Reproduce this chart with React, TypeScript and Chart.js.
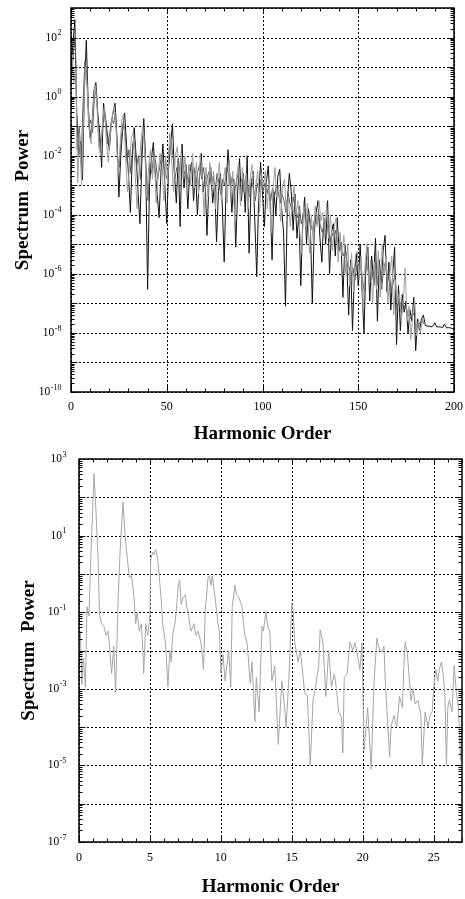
import React, { useEffect, useRef } from 'react';
import { Chart, registerables } from 'chart.js';

Chart.register(...registerables);

// ---------- Top chart data (harmonic order 0..200, step 1 for dark trace) ----------
const TOP_DARK_POWER = [
  1e1, 6e1, 4e2, 3e-1, 1e-2, 3e-2, 1.5e-3, 2e0, 8e1, 5e-1,
  4e-2, 1.2e-1, 1.6e0, 3e0, 2.5e-1, 6e-2, 4e-3, 6e-1, 2e-1, 5e-2,
  1.6e-2, 1.2e-1, 3e-1, 6e-1, 4e-2, 4e-4, 1e-2, 8e-2, 2.8e-1, 2.5e-2,
  2.5e-3, 1.2e-4, 8e-3, 9e-2, 1e-2, 6e-4, 5e-5, 6e-3, 1.8e-1, 5e-3,
  3e-7, 1e-3, 8e-3, 2.8e-2, 2.5e-3, 5e-4, 8e-5, 3e-3, 2.5e-2, 1e-3,
  5e-5, 4e-3, 2.5e-2, 1.2e-1, 2.5e-3, 2.5e-4, 8e-3, 4e-5, 2.5e-2, 8e-4,
  5e-3, 1.6e-4, 2.5e-3, 6e-3, 3e-4, 3e-3, 1e-4, 1.6e-3, 1.2e-2, 6e-4,
  2e-3, 2e-5, 1e-3, 4e-3, 2.5e-4, 1.2e-3, 1.2e-5, 6e-4, 2.5e-3, 2e-4,
  2.5e-6, 1e-3, 1.6e-2, 2e-3, 1.2e-4, 1.6e-3, 8e-6, 5e-4, 8e-3, 3e-4,
  2.5e-3, 1.2e-4, 1e-2, 5e-6, 8e-4, 3e-3, 6e-5, 8e-7, 4e-4, 6e-3,
  5e-4, 4e-5, 1.2e-3, 4.5e-3, 2.5e-4, 3e-6, 6e-4, 1e-4, 2e-3, 3.5e-3,
  1.6e-4, 2.5e-5, 8e-8, 3e-4, 2.5e-3, 6e-4, 3e-5, 5e-4, 1.6e-5, 1.2e-4,
  4e-7, 6e-5, 4e-4, 1e-5, 1.6e-4, 4e-5, 1e-7, 2.5e-5, 1.2e-4, 3e-4,
  1.6e-5, 2.5e-6, 8e-5, 1e-5, 3e-4, 1e-6, 2.5e-5, 5e-5, 4e-6, 8e-5,
  6e-6, 1.2e-5, 1.6e-7, 1e-5, 2.5e-6, 4e-8, 3e-6, 1.2e-8, 1e-6, 5e-6,
  4e-7, 1e-5, 2.5e-7, 1e-8, 2.5e-6, 8e-6, 1.2e-7, 4e-6, 6e-7, 1.6e-5,
  2.5e-8, 3e-6, 5e-7, 6e-6, 2e-5, 2.5e-7, 2.5e-6, 6e-8, 1e-6, 8e-6,
  4e-9, 4e-7, 1.2e-8, 2e-7, 5e-8, 1.2e-7, 1e-8, 6e-8, 2.5e-8, 1.6e-7,
  2.5e-9, 3e-8, 1.2e-8, 3e-8, 4e-8, 1.8e-8, 1.7e-8, 1.7e-8, 1.6e-8, 1.7e-8,
  2.2e-8, 1.6e-8, 1.6e-8, 1.6e-8, 1.5e-8, 2e-8, 1.5e-8, 1.5e-8, 1.5e-8, 1.4e-8,
  1.4e-8,
];

// Mid trace, harmonic order 0.25..184.25 (step 1)
const TOP_MID_POWER = [
  3e0, 3e1, 1e2, 1.6e-2, 1e-1, 6e-3, 5e-1, 1.6e1, 6e0, 1e-1,
  1.6e-1, 6e-2, 1e0, 1.6e0, 1.2e-1, 1.6e-2, 6e-2, 3e-1, 1e-1, 2.5e-2,
  6e-2, 1.6e-1, 1.2e-1, 3e-1, 1e-2, 4e-3, 4e-2, 1.2e-1, 6e-2, 6e-3,
  1.6e-2, 2.5e-3, 2.5e-2, 3e-2, 4e-3, 1e-2, 1.6e-3, 4e-2, 6e-2, 3e-3,
  3e-4, 6e-3, 2.5e-3, 1.2e-2, 6e-3, 1.6e-3, 4e-3, 1e-2, 5e-3, 2.5e-3,
  1.6e-3, 1.6e-2, 3e-2, 1e-2, 1.6e-3, 4e-3, 2e-3, 8e-3, 5e-3, 2.5e-3,
  3e-3, 1.2e-3, 5e-3, 2.5e-3, 4e-3, 1.2e-3, 3e-3, 5e-3, 1.6e-3, 4e-3,
  8e-4, 2e-3, 3e-3, 1e-3, 2e-3, 6e-4, 2.5e-3, 1.2e-3, 5e-4, 1.6e-3,
  1e-3, 4e-3, 2.5e-3, 8e-4, 2e-3, 5e-4, 1.2e-3, 2.5e-3, 1e-3, 1.6e-3,
  6e-4, 2e-3, 1e-3, 4e-4, 1.6e-3, 8e-4, 3e-4, 1.2e-3, 6e-4, 1.6e-3,
  6e-4, 1.2e-3, 5e-4, 1e-3, 3e-4, 8e-4, 4e-4, 1e-3, 6e-4, 2.5e-4,
  5e-4, 3e-4, 1.2e-4, 6e-4, 2.5e-4, 1.6e-4, 4e-4, 1.2e-4, 8e-5, 2e-4,
  5e-5, 1e-4, 1.6e-4, 4e-5, 1e-4, 5e-5, 2.5e-5, 8e-5, 5e-5, 1e-4,
  4e-5, 2.5e-5, 5e-5, 1.6e-5, 6e-5, 1.2e-5, 2.5e-5, 1.6e-5, 3e-5, 1e-5,
  1.2e-5, 6e-6, 4e-6, 8e-6, 2e-6, 1.6e-6, 8e-7, 1.6e-6, 6e-7, 2e-6,
  1.2e-6, 2.5e-6, 6e-7, 2.5e-7, 2.5e-6, 1.2e-6, 5e-7, 1.2e-6, 4e-7, 2.5e-6,
  4e-7, 1e-6, 3e-7, 1.6e-6, 2.5e-6, 5e-7, 1e-6, 2.5e-7, 5e-7, 1e-6,
  6e-8, 1.6e-7, 5e-8, 1e-7, 8e-8, 6e-8, 4e-8, 3e-8, 5e-8, 4e-8,
  1.2e-8, 2.5e-8, 2e-8, 2.5e-8, 2e-8,
];

// Light trace, harmonic order 0.5..184.5 (step 1)
const TOP_GRAY_POWER = [
  3e1, 3e0, 1e1, 1.2e-3, 6e-2, 1e-3, 1.6e-1, 1e1, 2e0, 8e-2,
  2.5e-2, 4e-1, 2.5e0, 6e-1, 2e-2, 1e-2, 1.6e-1, 5e-1, 3e-2, 6e-3,
  5e-2, 2e-1, 5e-1, 1e-1, 2.5e-3, 1.6e-2, 1.6e-1, 2.5e-1, 1e-2, 6e-4,
  4e-3, 4e-2, 6e-2, 2.5e-3, 1.6e-4, 3e-3, 3e-2, 1e-1, 1.6e-2, 4e-4,
  4e-3, 1.6e-2, 1.6e-3, 1e-2, 2.5e-4, 2.5e-3, 1.2e-2, 6e-3, 3e-4, 1e-2,
  1.2e-3, 6e-2, 1e-2, 6e-4, 1e-2, 2e-2, 1e-3, 1.2e-2, 1.6e-3, 1e-2,
  4e-4, 5e-3, 1e-3, 1.2e-2, 8e-4, 6e-3, 5e-4, 1e-2, 2.5e-3, 1e-4,
  4e-3, 4e-4, 6e-3, 1e-3, 3e-3, 1.6e-4, 1.6e-3, 6e-3, 3e-4, 1.2e-3,
  4e-3, 2.5e-4, 5e-3, 5e-4, 3e-3, 6e-5, 2e-3, 6e-3, 2e-4, 4e-3,
  6e-4, 2.5e-3, 1.6e-4, 1.6e-3, 5e-3, 2.5e-4, 1e-3, 3e-3, 1.2e-4, 2.5e-3,
  1e-3, 3e-3, 1.6e-4, 1.2e-3, 2.5e-5, 8e-4, 4e-3, 4e-4, 1e-3, 6e-5,
  1e-3, 1.6e-3, 1e-4, 4e-4, 4e-5, 2.5e-4, 1e-3, 1e-4, 3e-4, 2.5e-5,
  5e-6, 2e-4, 4e-5, 2.5e-4, 5e-6, 1e-4, 1.2e-5, 2e-4, 4e-5, 3e-4,
  6e-5, 1.2e-4, 2e-5, 2.5e-4, 1.6e-5, 1e-4, 6e-6, 4e-5, 8e-5, 2.5e-6,
  2.5e-5, 4e-6, 2e-5, 1e-6, 1e-5, 4e-7, 5e-6, 2.5e-7, 4e-6, 6e-6,
  6e-7, 4e-6, 6e-8, 1.6e-6, 1e-5, 4e-7, 3e-6, 1e-7, 2.5e-6, 3e-7,
  6e-6, 1.6e-7, 1e-5, 1e-6, 4e-6, 1e-7, 1e-6, 4e-6, 4e-8, 6e-7,
  1e-7, 2.5e-7, 2.5e-8, 1.2e-7, 1.6e-6, 2.5e-8, 8e-8, 6e-9, 5e-8, 1.2e-7,
  8e-9, 2.5e-8, 1e-8, 3e-8, 2e-8,
];

// ---------- Bottom chart data (harmonic order 0..27) ----------
const BOTTOM_ORDER = [
  0, 0.1, 0.2, 0.3, 0.45, 0.56, 0.7, 0.85, 1.06, 1.2,
  1.34, 1.45, 1.6, 1.75, 1.9, 2.05, 2.15, 2.3, 2.45, 2.58,
  2.75, 2.9, 3.1, 3.25, 3.35, 3.55, 3.7, 3.85, 4.0, 4.1,
  4.25, 4.4, 4.5, 4.56, 4.7, 4.85, 5.0, 5.05, 5.2, 5.3,
  5.4, 5.55, 5.7, 5.8, 5.9, 6.1, 6.27, 6.4, 6.5, 6.6,
  6.8, 7.0, 7.1, 7.2, 7.35, 7.5, 7.6, 7.7, 7.8, 7.9,
  8.1, 8.25, 8.4, 8.6, 8.78, 8.9, 9.1, 9.2, 9.3, 9.4,
  9.55, 9.65, 9.8, 9.9, 10.0, 10.15, 10.3, 10.45, 10.55, 10.7,
  10.8, 11.0, 11.1, 11.25, 11.4, 11.5, 11.6, 11.7, 11.85, 12.07,
  12.2, 12.4, 12.5, 12.7, 12.9, 13.0, 13.17, 13.3, 13.45, 13.6,
  13.8, 14.05, 14.3, 14.5, 14.6, 14.8, 15.0, 15.1, 15.2, 15.45,
  15.6, 15.8, 15.9, 16.1, 16.3, 16.5, 16.7, 16.9, 17.0, 17.2,
  17.4, 17.6, 17.8, 18.0, 18.15, 18.3, 18.5, 18.6, 18.7, 18.9,
  19.1, 19.3, 19.45, 19.6, 19.8, 19.95, 20.1, 20.35, 20.6, 20.8,
  21.0, 21.2, 21.35, 21.5, 21.6, 21.9, 22.0, 22.2, 22.4, 22.6,
  22.8, 22.9, 23.0, 23.15, 23.4, 23.55, 23.7, 23.9, 24.1, 24.2,
  24.4, 24.6, 24.75, 24.9, 25.0, 25.15, 25.3, 25.4, 25.55, 25.7,
  25.8, 25.9, 26.0, 26.1, 26.3, 26.45, 26.6, 26.75, 26.9, 27.0,
];

const BOTTOM_POWER = [
  6.3e-3, 3.2e-2, 1.3e-3, 6.3e-3, 1.1e-3, 1.4e-1, 8e-2, 4, 4.2e2, 40,
  2.8, 8e-2, 5e-2, 4.3e-2, 2.5e-2, 3.2e-2, 1.3e-2, 2.5e-3, 1.3e-2, 8e-4,
  1.7e-1, 4, 76, 10, 4, 0.8, 0.9, 0.32, 5e-2, 0.1,
  3.2e-2, 5e-2, 1e-2, 2.5e-3, 5e-2, 2.5e-2, 8.3e-2, 2.3, 3.7, 3.2,
  4.4, 2.5, 0.56, 0.2, 5e-2, 1.6e-2, 1.15e-3, 1e-2, 5e-3, 2.5e-2,
  6.3e-2, 0.5, 0.7, 0.16, 0.25, 0.28, 0.13, 0.1, 5e-2, 3.2e-2,
  5e-2, 2.5e-2, 3.2e-2, 1.6e-2, 3.2e-3, 0.11, 0.8, 0.9, 0.5, 0.9,
  0.32, 0.16, 5e-2, 3.2e-2, 2.5e-3, 8e-3, 1.6e-3, 5e-3, 1e-2, 1.1e-3,
  0.14, 0.51, 0.28, 0.25, 0.18, 0.13, 5e-2, 2.5e-2, 1.6e-2, 1.4e-3,
  5e-3, 1.4e-4, 2e-3, 2.5e-4, 4.3e-2, 3.2e-2, 0.105, 4.3e-2, 3.2e-2, 1.6e-3,
  4e-3, 3.5e-5, 1.6e-3, 3.2e-4, 1e-4, 2e-3, 0.17, 0.11, 1.6e-2, 5e-3,
  1e-2, 2e-3, 8e-4, 6.3e-4, 1e-5, 5e-4, 1.3e-3, 4e-3, 3.5e-2, 1.6e-2,
  6.3e-4, 1e-2, 1.1e-3, 2.5e-3, 1e-3, 2.5e-4, 1.8e-4, 2.1e-5, 2e-3, 2.5e-3,
  1.7e-2, 1e-2, 1.6e-2, 9e-3, 3.2e-3, 1.6e-2, 2.5e-5, 3.2e-4, 8e-6, 1.6e-3,
  2.1e-2, 1e-2, 9e-3, 1.3e-2, 1.3e-3, 1.7e-5, 1e-4, 2e-4, 1e-4, 6.3e-4,
  3.2e-4, 4e-3, 1.7e-2, 8e-3, 5e-4, 1e-3, 4e-4, 5e-4, 2e-4, 1e-5,
  2.5e-4, 1e-4, 2e-4, 2.5e-4, 1e-3, 3.2e-3, 1.6e-3, 3.2e-3, 5e-3, 2e-3,
  6.3e-4, 1e-5, 3.2e-4, 5e-4, 2.5e-4, 4e-3, 8e-4, 3.2e-4, 1.3e-5, 3.2e-4,
];

// ---------- Axis ticks / labels ----------
const TOP_X_TICKS = [0, 50, 100, 150, 200];
const TOP_Y_LABEL_EXPS = [2, 0, -2, -4, -6, -8, -10];
const BOTTOM_X_TICKS = [0, 5, 10, 15, 20, 25];
const BOTTOM_Y_LABEL_EXPS = [3, 1, -1, -3, -5, -7];
const X_TITLE = 'Harmonic Order';
const Y_TITLE = 'Spectrum  Power';

const SERIF = '"Liberation Serif", "Times New Roman", serif';

type FrameCfg = {
  xTicks: number[];
  xMinorStep: number;
  yMinExp: number;
  yMaxExp: number;
  yLabelExps: number[];
  yLabelGap: number;
  xLabelOffset: number;
  xTitleBaseline: number;
  yTitleBaseline: number;
};

function makeFrame(cfg: FrameCfg) {
  return {
    id: 'frame',
    beforeDatasetsDraw(chart: any) {
      const { ctx, chartArea: a } = chart;
      const xs = chart.scales.x;
      const ys = chart.scales.y;
      ctx.save();
      ctx.strokeStyle = '#000';
      ctx.lineWidth = 1;
      ctx.setLineDash([2, 2]);
      ctx.beginPath();
      for (const v of cfg.xTicks) {
        const px = Math.round(xs.getPixelForValue(v)) + 0.5;
        ctx.moveTo(px, a.top);
        ctx.lineTo(px, a.bottom);
      }
      for (let e = cfg.yMinExp; e <= cfg.yMaxExp; e++) {
        const py = Math.round(ys.getPixelForValue(Math.pow(10, e))) + 0.5;
        ctx.moveTo(a.left, py);
        ctx.lineTo(a.right, py);
      }
      ctx.stroke();
      ctx.restore();
    },
    afterDatasetsDraw(chart: any) {
      const { ctx, chartArea: a } = chart;
      const xs = chart.scales.x;
      const ys = chart.scales.y;
      ctx.save();
      ctx.setLineDash([]);
      ctx.strokeStyle = '#000';
      ctx.lineWidth = 1;
      ctx.beginPath();
      const n = Math.round((xs.max - xs.min) / cfg.xMinorStep);
      for (let k = 0; k <= n; k++) {
        const v = xs.min + k * cfg.xMinorStep;
        const px = Math.round(xs.getPixelForValue(v)) + 0.5;
        const major = cfg.xTicks.some((t) => Math.abs(t - v) < 1e-6);
        const len = major ? 6 : 3.5;
        ctx.moveTo(px, a.bottom);
        ctx.lineTo(px, a.bottom - len);
        ctx.moveTo(px, a.top);
        ctx.lineTo(px, a.top + len);
      }
      for (let e = cfg.yMinExp; e < cfg.yMaxExp; e++) {
        for (let m = 1; m <= 9; m++) {
          const py = Math.round(ys.getPixelForValue(m * Math.pow(10, e))) + 0.5;
          const len = m === 1 ? 6.5 : 3.5;
          ctx.moveTo(a.left, py);
          ctx.lineTo(a.left + len, py);
          ctx.moveTo(a.right, py);
          ctx.lineTo(a.right - len, py);
        }
      }
      ctx.stroke();
      ctx.lineWidth = 1.5;
      ctx.strokeRect(a.left, a.top, a.right - a.left, a.bottom - a.top);
      ctx.fillStyle = '#000';
      ctx.textBaseline = 'middle';
      ctx.textAlign = 'left';
      for (const e of cfg.yLabelExps) {
        const py = ys.getPixelForValue(Math.pow(10, e));
        const exp = String(e);
        ctx.font = `11.5px ${SERIF}`;
        const w1 = ctx.measureText('10').width;
        ctx.font = `8px ${SERIF}`;
        const w2 = ctx.measureText(exp).width;
        const x0 = a.left - cfg.yLabelGap - w1 - w2;
        ctx.font = `11.5px ${SERIF}`;
        ctx.fillText('10', x0, py);
        ctx.font = `8px ${SERIF}`;
        ctx.fillText(exp, x0 + w1 + 0.5, py - 4.5);
      }
      ctx.font = `12px ${SERIF}`;
      ctx.textAlign = 'center';
      for (const v of cfg.xTicks) {
        ctx.fillText(String(v), xs.getPixelForValue(v), a.bottom + cfg.xLabelOffset);
      }
      ctx.font = `bold 19px ${SERIF}`;
      ctx.textBaseline = 'alphabetic';
      ctx.fillText(X_TITLE, (a.left + a.right) / 2, cfg.xTitleBaseline);
      ctx.save();
      ctx.translate(cfg.yTitleBaseline, (a.top + a.bottom) / 2);
      ctx.rotate(-Math.PI / 2);
      ctx.fillText(Y_TITLE, 0, 0);
      ctx.restore();
      ctx.restore();
    },
  };
}

type PanelProps = {
  width: number;
  height: number;
  datasets: any[];
  xMax: number;
  yMin: number;
  yMax: number;
  padding: { top: number; right: number; left: number; bottom: number };
  yWidth: number;
  xHeight: number;
  frame: FrameCfg;
};

function Panel(p: PanelProps) {
  const ref = useRef<HTMLCanvasElement | null>(null);
  useEffect(() => {
    if (!ref.current) return;
    const chart = new Chart(ref.current, {
      type: 'line',
      data: { datasets: p.datasets },
      options: {
        responsive: false,
        animation: false,
        events: [],
        layout: { padding: p.padding },
        plugins: { legend: { display: false }, tooltip: { enabled: false } },
        elements: { point: { radius: 0 }, line: { tension: 0 } },
        scales: {
          x: {
            type: 'linear',
            min: 0,
            max: p.xMax,
            grid: { display: false },
            border: { display: false },
            ticks: { display: false },
            afterFit: (s: any) => {
              s.height = p.xHeight;
            },
          },
          y: {
            type: 'logarithmic',
            min: p.yMin,
            max: p.yMax,
            grid: { display: false },
            border: { display: false },
            ticks: { display: false },
            afterFit: (s: any) => {
              s.width = p.yWidth;
            },
          },
        },
      },
      plugins: [makeFrame(p.frame)],
    } as any);
    return () => chart.destroy();
  }, []);
  return (
    <canvas
      ref={ref}
      width={p.width}
      height={p.height}
      style={{ display: 'block', width: p.width, height: p.height }}
    />
  );
}

export default function App() {
  const topDatasets = [
    {
      label: 'light',
      data: TOP_GRAY_POWER.map((v, i) => ({ x: i + 0.5, y: v })),
      borderColor: '#a0a0a0',
      borderWidth: 1,
      pointRadius: 0,
    },
    {
      label: 'mid',
      data: TOP_MID_POWER.map((v, i) => ({ x: i + 0.25, y: v })),
      borderColor: '#5a5a5a',
      borderWidth: 1,
      pointRadius: 0,
    },
    {
      label: 'dark',
      data: TOP_DARK_POWER.map((v, i) => ({ x: i, y: v })),
      borderColor: '#111',
      borderWidth: 1,
      pointRadius: 0,
    },
  ];
  const bottomDatasets = [
    {
      label: 'spectrum',
      data: BOTTOM_ORDER.map((h, i) => ({ x: h, y: BOTTOM_POWER[i] })),
      borderColor: '#a6a6a6',
      borderWidth: 1,
      pointRadius: 0,
    },
  ];
  return (
    <div style={{ position: 'absolute', left: 0, top: 0, width: 465, height: 899, background: '#fff' }}>
      <Panel
        width={465}
        height={445}
        datasets={topDatasets}
        xMax={200}
        yMin={1e-10}
        yMax={1e3}
        padding={{ top: 8, right: 11, left: 0, bottom: 0 }}
        yWidth={71}
        xHeight={53}
        frame={{
          xTicks: TOP_X_TICKS,
          xMinorStep: 10,
          yMinExp: -10,
          yMaxExp: 3,
          yLabelExps: TOP_Y_LABEL_EXPS,
          yLabelGap: 10,
          xLabelOffset: 15,
          xTitleBaseline: 439,
          yTitleBaseline: 28,
        }}
      />
      <Panel
        width={465}
        height={454}
        datasets={bottomDatasets}
        xMax={27}
        yMin={1e-7}
        yMax={1e3}
        padding={{ top: 14, right: 3, left: 0, bottom: 0 }}
        yWidth={79}
        xHeight={57}
        frame={{
          xTicks: BOTTOM_X_TICKS,
          xMinorStep: 1,
          yMinExp: -7,
          yMaxExp: 3,
          yLabelExps: BOTTOM_Y_LABEL_EXPS,
          yLabelGap: 13,
          xLabelOffset: 16,
          xTitleBaseline: 447,
          yTitleBaseline: 34,
        }}
      />
    </div>
  );
}
